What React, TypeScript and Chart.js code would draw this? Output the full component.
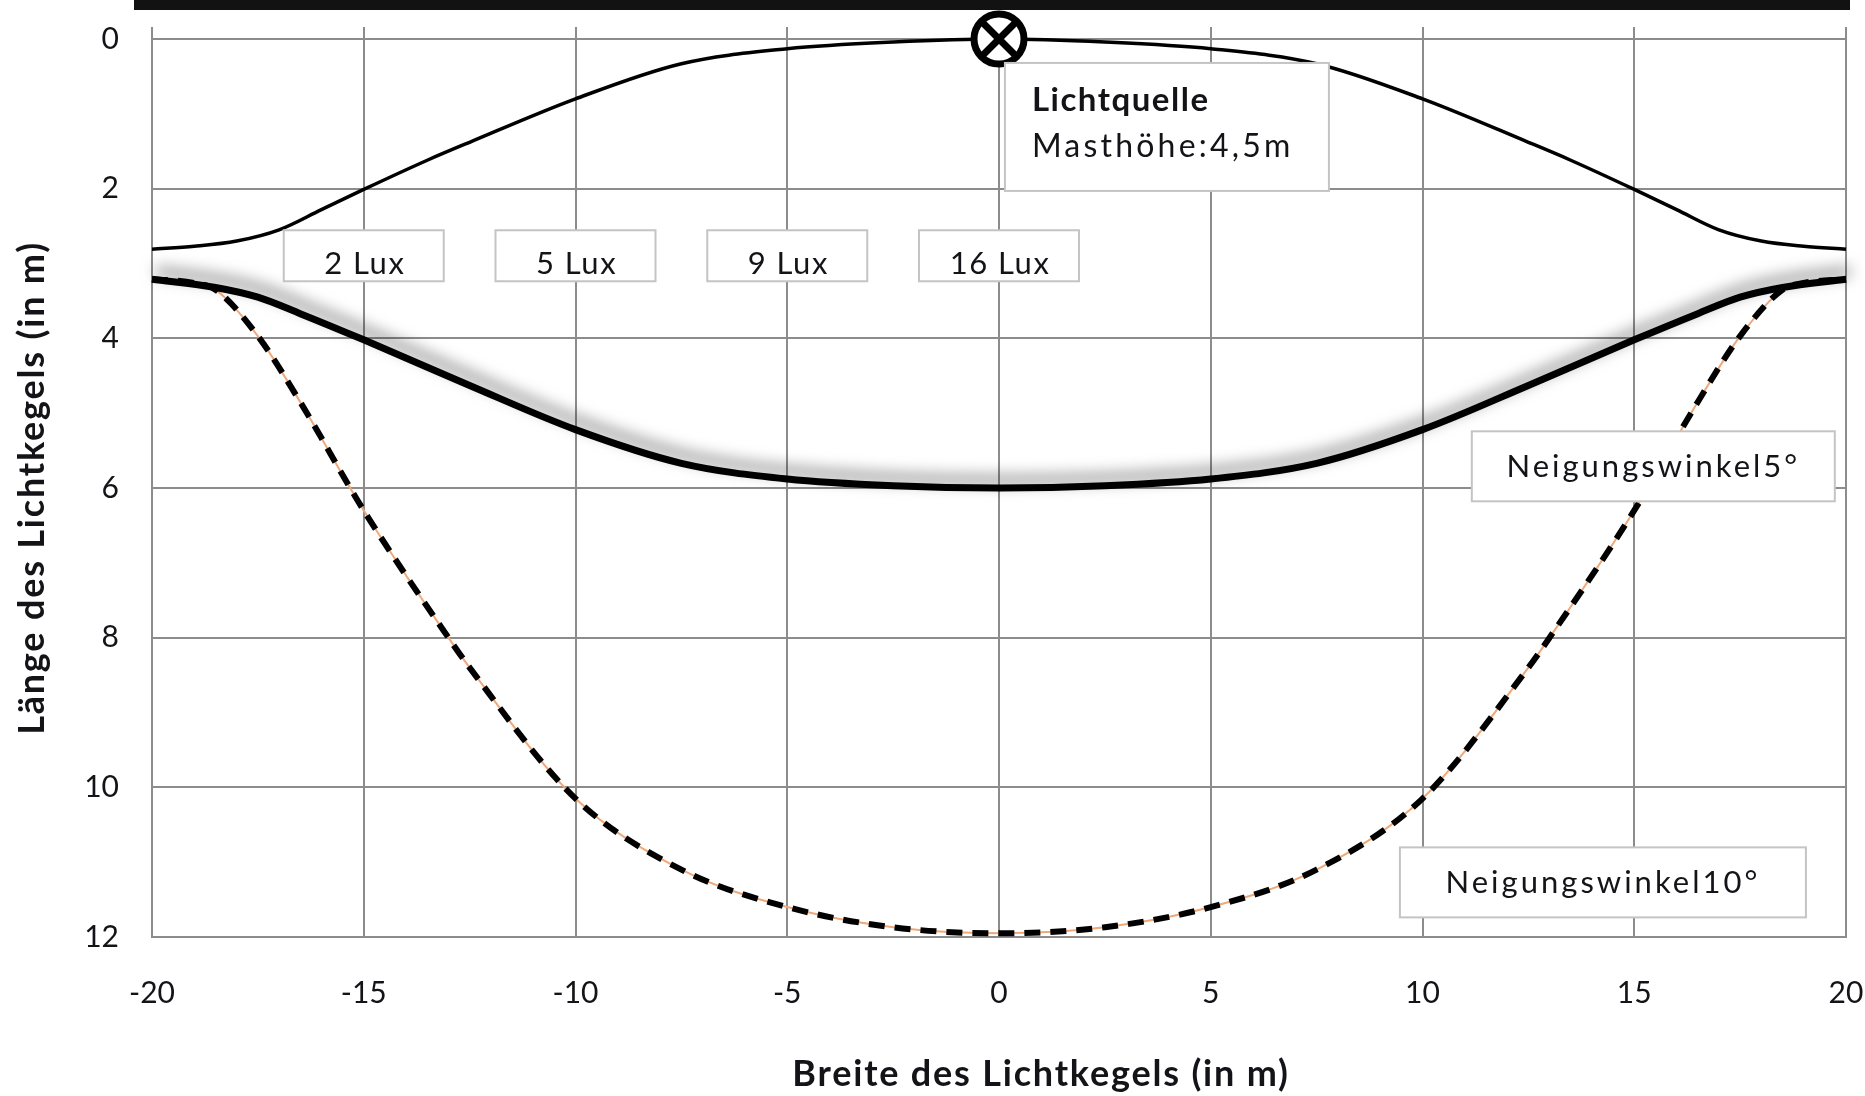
import React, { useEffect, useRef } from "react";
import { Chart, registerables } from "chart.js";
Chart.register(...registerables);

// ---- data ----
const xTickValues = [-20, -15, -10, -5, 0, 5, 10, 15, 20];
const yTickValues = [0, 2, 4, 6, 8, 10, 12];

const upperX = [-20, -19, -18, -17, -16, -15, -13.5, -12.5, -10, -7.5, -5, -2.5, 0, 2.5, 5, 7.5, 10, 12.5, 13.5, 15, 16, 17, 18, 19, 20];
const upperY = [2.81, 2.77, 2.7, 2.55, 2.28, 2.01, 1.62, 1.38, 0.8, 0.33, 0.13, 0.04, 0, 0.04, 0.13, 0.33, 0.8, 1.38, 1.62, 2.01, 2.28, 2.55, 2.7, 2.77, 2.81];

const tilt5X = [-20, -18.5, -17.5, -16.5, -15, -12.5, -10, -7.5, -5, -2.5, 0, 2.5, 5, 7.5, 10, 12.5, 15, 16.5, 17.5, 18.5, 20];
const tilt5Y = [3.21, 3.32, 3.45, 3.67, 4.02, 4.63, 5.22, 5.67, 5.88, 5.97, 6.0, 5.97, 5.88, 5.67, 5.22, 4.63, 4.02, 3.67, 3.45, 3.32, 3.21];

const tilt10X = [-20, -19, -18.5, -17.5, -16.5, -15, -13, -12.5, -10, -7.5, -5, -2.5, 0, 2.5, 5, 7.5, 10, 12.5, 13, 15, 16.5, 17.5, 18.5, 19, 20];
const tilt10Y = [3.21, 3.26, 3.35, 3.97, 4.85, 6.3, 8.0, 8.4, 10.15, 11.1, 11.6, 11.87, 11.95, 11.87, 11.6, 11.1, 10.15, 8.4, 8.0, 6.3, 4.85, 3.97, 3.35, 3.26, 3.21];

const sourceX = [0];
const sourceY = [0];

const luxLabels = ["2 Lux", "5 Lux", "9 Lux", "16 Lux"];
const luxX = [-15, -10, -5, 0];
const luxY = 2.89;

const noteLines = ["Lichtquelle", "Masthöhe:4,5m"];
const noteX = 0.14;
const noteY = 0.32;

const tiltLabels = ["Neigungswinkel5°", "Neigungswinkel10°"];
const tiltLabelX = [15.45, 14.26];
const tiltLabelY = [5.71, 11.27];

const xTitle = "Breite des Lichtkegels (in m)";
const yTitle = "Länge des Lichtkegels (in m)";

const pts = (xs: number[], ys: number[]) => xs.map((x, i) => ({ x, y: ys[i] }));

const FONT = "Lato, 'Open Sans', sans-serif";
const TEXT = "#141418";
const GRID = "#8c8c8c";

export default function App() {
  const ref = useRef<HTMLCanvasElement>(null);

  useEffect(() => {
    document.body.style.margin = "0";
    const canvas = ref.current!;

    const shadowPlugin = {
      id: "lineShadow",
      beforeDatasetDraw(chart: any, args: any) {
        if (args.index === 1) {
          const ctx = chart.ctx;
          ctx.save();
          ctx.shadowColor = "rgba(0,0,0,0.55)";
          ctx.shadowBlur = 15;
          ctx.shadowOffsetX = 4;
          ctx.shadowOffsetY = -8;
        }
      },
      afterDatasetDraw(chart: any, args: any) {
        if (args.index === 1) chart.ctx.restore();
      },
    };

    const decoPlugin = {
      id: "deco",
      beforeDraw(chart: any) {
        const ctx = chart.ctx;
        ctx.save();
        ctx.fillStyle = "#ffffff";
        ctx.fillRect(0, 0, chart.width, chart.height);
        ctx.restore();
      },
      afterDatasetsDraw(chart: any) {
        const ctx = chart.ctx as CanvasRenderingContext2D;
        const xs = chart.scales.x;
        const ys = chart.scales.y;
        const ca = chart.chartArea;
        ctx.save();
        // top bar
        ctx.fillStyle = "#121212";
        ctx.fillRect(ca.left - 18, 0, ca.right - ca.left + 22, 10);

        const box = (l: number, t: number, w: number, h: number) => {
          ctx.fillStyle = "#ffffff";
          ctx.fillRect(l, t, w, h);
          ctx.strokeStyle = "#c4c4c4";
          ctx.lineWidth = 2;
          ctx.strokeRect(l, t, w, h);
        };
        const anyCtx = ctx as any;

        // lux labels
        luxLabels.forEach((lab, i) => {
          const cx = xs.getPixelForValue(luxX[i]);
          const cy = ys.getPixelForValue(luxY);
          box(cx - 80, cy - 25, 160, 51);
          ctx.fillStyle = TEXT;
          ctx.font = `31px ${FONT}`;
          anyCtx.letterSpacing = "1.5px";
          ctx.textAlign = "center";
          ctx.textBaseline = "middle";
          ctx.fillText(lab, cx + 1, cy + 9);
        });

        // light source note
        {
          const l = xs.getPixelForValue(noteX);
          const t = ys.getPixelForValue(noteY);
          box(l, t, 324, 128);
          ctx.fillStyle = TEXT;
          ctx.textAlign = "left";
          ctx.textBaseline = "middle";
          ctx.font = `bold 33px ${FONT}`;
          anyCtx.letterSpacing = "1.5px";
          ctx.fillText(noteLines[0], l + 27, t + 37);
          ctx.font = `32px ${FONT}`;
          anyCtx.letterSpacing = "3.2px";
          ctx.fillText(noteLines[1], l + 27, t + 84);
        }

        // tilt labels
        const tiltW = [363, 406];
        tiltLabels.forEach((lab, i) => {
          const cx = xs.getPixelForValue(tiltLabelX[i]);
          const cy = ys.getPixelForValue(tiltLabelY[i]);
          box(cx - tiltW[i] / 2, cy - 35, tiltW[i], 70);
          ctx.fillStyle = TEXT;
          ctx.font = `31px ${FONT}`;
          anyCtx.letterSpacing = "3px";
          ctx.textAlign = "center";
          ctx.textBaseline = "middle";
          ctx.fillText(lab, cx, cy + 1);
        });

        // axis titles
        ctx.font = `bold 36px ${FONT}`;
        anyCtx.letterSpacing = "1.8px";
        ctx.fillStyle = TEXT;
        ctx.textAlign = "center";
        ctx.textBaseline = "middle";
        ctx.fillText(xTitle, (ca.left + ca.right) / 2 + 42, 1074);
        ctx.translate(32, (ca.top + ca.bottom) / 2);
        ctx.rotate(-Math.PI / 2);
        ctx.fillText(yTitle, 0, 0);
        ctx.restore();
      },
    };

    const chart = new Chart(canvas, {
      type: "line",
      data: {
        datasets: [
          {
            label: "Lichtkegel oben",
            data: pts(upperX, upperY),
            borderColor: "#000",
            borderWidth: 3.5,
            pointRadius: 0,
            cubicInterpolationMode: "monotone",
            clip: false,
            order: 3,
          } as any,
          {
            label: "Neigungswinkel 5°",
            data: pts(tilt5X, tilt5Y),
            borderColor: "#000",
            borderWidth: 7,
            pointRadius: 0,
            cubicInterpolationMode: "monotone",
            clip: false,
            order: 2,
          },
          {
            label: "Neigungswinkel 10°",
            data: pts(tilt10X, tilt10Y),
            borderColor: "#000",
            borderWidth: 6,
            borderDash: [16, 10],
            pointRadius: 0,
            cubicInterpolationMode: "monotone",
            clip: false,
            order: 1,
          },
          {
            label: "Neigungswinkel 10° (Linie)",
            data: pts(tilt10X, tilt10Y),
            borderColor: "#f0a878",
            borderWidth: 2,
            pointRadius: 0,
            cubicInterpolationMode: "monotone",
            clip: false,
            order: 4,
          },
          {
            label: "Lichtquelle",
            data: pts(sourceX, sourceY),
            showLine: false,
            pointStyle: "circle",
            pointRadius: 25,
            pointBorderWidth: 7,
            pointBackgroundColor: "#fff",
            pointBorderColor: "#000",
            clip: false,
            order: 0,
          },
          {
            label: "Lichtquelle X",
            data: pts(sourceX, sourceY),
            showLine: false,
            pointStyle: "crossRot",
            pointRadius: 23,
            pointBorderWidth: 7,
            pointBorderColor: "#000",
            clip: false,
            order: -1,
          },
        ],
      },
      options: {
        responsive: false,
        animation: false,
        devicePixelRatio: 1,
        layout: { autoPadding: false, padding: { top: 27, right: 19, bottom: 0, left: 0 } },
        plugins: { legend: { display: false }, tooltip: { enabled: false }, title: { display: false } },
        scales: {
          x: {
            type: "linear",
            position: "bottom",
            min: -20,
            max: 20,
            afterBuildTicks: (s: any) => {
              s.ticks = xTickValues.map((v) => ({ value: v }));
            },
            ticks: { font: { family: FONT, size: 30 }, color: TEXT, padding: 38, maxRotation: 0 },
            grid: { color: GRID, lineWidth: 2, drawTicks: false },
            border: { color: GRID, width: 2 },
            afterFit: (s: any) => {
              s.height = 159;
              s.paddingLeft = 0;
              s.paddingRight = 0;
            },
          },
          xTop: {
            type: "linear",
            position: "top",
            min: -20,
            max: 20,
            afterBuildTicks: (s: any) => {
              s.ticks = xTickValues.map((v) => ({ value: v }));
            },
            ticks: { display: false },
            grid: { color: GRID, lineWidth: 2, drawOnChartArea: false, drawTicks: true, tickLength: 12 },
            border: { display: false },
            afterFit: (s: any) => {
              s.height = 12;
              s.paddingLeft = 0;
              s.paddingRight = 0;
            },
          },
          y: {
            type: "linear",
            min: 0,
            max: 12,
            reverse: true,
            afterBuildTicks: (s: any) => {
              s.ticks = yTickValues.map((v) => ({ value: v }));
            },
            ticks: { font: { family: FONT, size: 30 }, color: TEXT, padding: 33 },
            grid: { color: GRID, lineWidth: 2, drawTicks: false },
            border: { color: GRID, width: 2 },
            afterFit: (s: any) => {
              s.width = 152;
              s.paddingTop = 0;
              s.paddingBottom = 0;
            },
          },
        },
      } as any,
      plugins: [shadowPlugin, decoPlugin],
    });
    return () => chart.destroy();
  }, []);

  return (
    <div style={{ width: 1865, height: 1096, background: "#fff" }}>
      <canvas ref={ref} width={1865} height={1096} style={{ display: "block" }} />
    </div>
  );
}
